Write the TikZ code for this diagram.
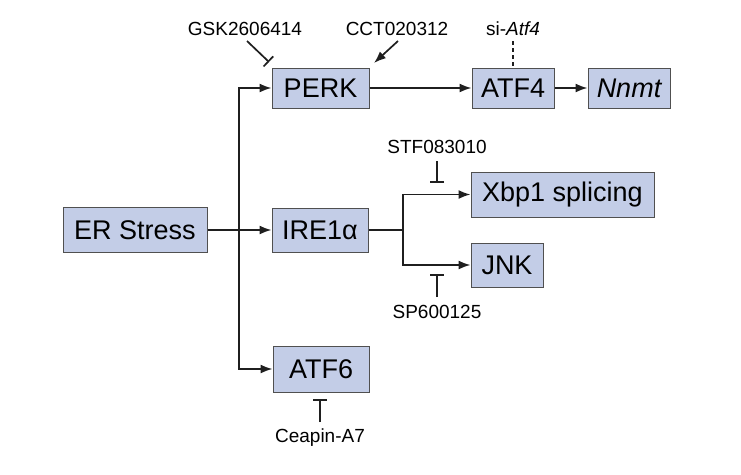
\documentclass[tikz,border=0pt]{standalone}
\usepackage{fontspec}
\setmainfont{Liberation Sans}
\usetikzlibrary{arrows.meta}
\definecolor{boxfill}{HTML}{C3CDE7}
\definecolor{boxline}{HTML}{505050}
\tikzset{
  pbox/.style={draw=boxline, fill=boxfill, line width=1pt, inner sep=0pt,
    font=\fontsize{27}{31}\selectfont, anchor=center},
  lab/.style={font=\fontsize{19}{23}\selectfont, inner sep=0pt, anchor=center},
  conn/.style={line width=1.7pt, draw=black!88},
  act/.style={conn, -{Latex[length=12pt,width=9pt]}},
  inh/.style={conn, -{Bar[width=14pt,line width=1.7pt]}},
}
\begin{document}
\begin{tikzpicture}[x=1pt,y=-1pt]
\useasboundingbox (0,0) rectangle (741,474);
% boxes
\node[pbox, minimum width=144pt, minimum height=45pt] (er) at (135,230) {ER Stress};
\node[pbox, minimum width=97pt, minimum height=40pt] (perk) at (320.5,88) {PERK};
\node[pbox, minimum width=82pt, minimum height=40pt] (atf4) at (513,88) {ATF4};
\node[pbox, minimum width=82pt, minimum height=40pt] (nnmt) at (629,88) {\itshape Nnmt};
\node[pbox, minimum width=96pt, minimum height=44pt] (ire) at (320,230) {IRE1α};
\node[pbox, minimum width=183pt, minimum height=45pt] (xbp) at (562.5,194.5) {Xbp1 splicing};
\node[pbox, minimum width=72pt, minimum height=44pt] (jnk) at (507,265) {JNK};
\node[pbox, minimum width=96pt, minimum height=46pt] (atf6) at (321,369) {ATF6};
% labels
\node[lab] (gsk) at (245,29) {GSK2606414};
\node[lab] (cct) at (397,29) {CCT020312};
\node[lab] (si) at (513,29) {si-\textit{Atf4}};
\node[lab] (stf) at (437,147) {STF083010};
\node[lab] (sp) at (437,312) {SP600125};
\node[lab] (cea) at (320,438) {Ceapin-A7};
% coordinates
\coordinate (split) at (239,230);
\coordinate (branch) at (403,230);
\coordinate (gskA) at (247,41);
\coordinate (gskB) at (269,62);
\coordinate (cctA) at (398,41);
\coordinate (cctB) at (374,63);
\coordinate (siA) at (513,41);
\coordinate (siB) at (513,66);
\coordinate (stfA) at (437,161);
\coordinate (stfB) at (437,183);
\coordinate (spA) at (437,297);
\coordinate (spB) at (437,274);
\coordinate (ceaA) at (320,422);
\coordinate (ceaB) at (320,399);
% connectors
\draw[act] (er.east) -- (ire.west);
\draw[act] (split) |- (perk.west);
\draw[act] (split) |- (atf6.west);
\draw[act] (perk.east) -- (atf4.west);
\draw[act] (atf4.east) -- (nnmt.west);
\draw[conn] (ire.east) -- (branch);
\draw[act] (branch) |- (xbp.west);
\draw[act] (branch) |- (jnk.west);
\draw[inh] (gskA) -- (gskB);
\draw[act] (cctA) -- (cctB);
\draw[conn, line width=1.3pt, dash pattern=on 4pt off 3pt] (siA) -- (siB);
\draw[inh] (stfA) -- (stfB);
\draw[inh] (spA) -- (spB);
\draw[inh] (ceaA) -- (ceaB);
\end{tikzpicture}
\end{document}
